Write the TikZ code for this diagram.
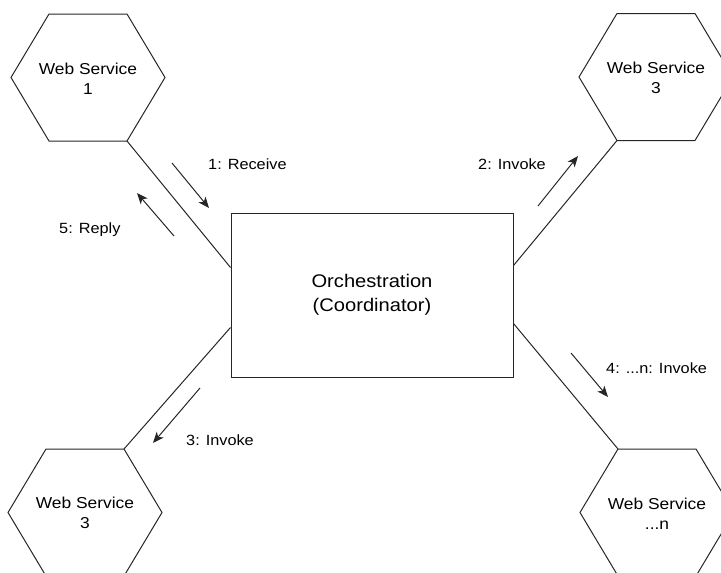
\documentclass[tikz,border=0pt]{standalone}
\usepackage{fontspec}
\setmainfont{Liberation Sans}[FakeStretch=1.1]
\usetikzlibrary{arrows.meta}

\begin{document}
\begin{tikzpicture}[x=1pt,y=-1pt,
  line/.style={draw=black!85, line width=1pt},
  flow/.style={line, -{Stealth[length=11pt,width=9pt,inset=3pt]}},
  svclabel/.style={align=center, font=\fontsize{15.8}{20}\selectfont, inner sep=0pt},
  msg/.style={font=\fontsize{14.8}{18}\selectfont, inner sep=0pt, anchor=base west},
  hub/.style={line, rectangle, minimum width=282pt, minimum height=164pt,
    align=center, font=\fontsize{18.3}{24}\selectfont},
  pics/hexagon/.style={code={
    \draw[line] (-77,0) coordinate (-w) -- (-39,-63.5) coordinate (-nw)
      -- (39,-63.5) coordinate (-ne) -- (77,0) coordinate (-e)
      -- (39,63.5) coordinate (-se) -- (-39,63.5) coordinate (-sw) -- cycle;
  }}
]
\useasboundingbox (0,0) rectangle (721,573);
\clip (0,0) rectangle (721,573);

% services
\pic (ws1) at (88,77.5) {hexagon};
\pic (ws3a) at (656,77) {hexagon};
\pic (ws3b) at (85,512.5) {hexagon};
\pic (wsn) at (657,512.5) {hexagon};

\node[svclabel] (t1) at (88,78.3) {Web Service\\1};
\node[svclabel] (t3a) at (656,78) {Web Service\\3};
\node[svclabel] (t3b) at (85,513.3) {Web Service\\3};
\node[svclabel] (tn) at (657,513.3) {Web Service\\...n};

% coordinator
\node[hub] (orch) at (372,295) {Orchestration\\(Coordinator)};

% links between the services and the coordinator
\draw[line] (ws1-se) -- ([yshift=-55pt]orch.north west);
\draw[line] (ws3a-sw) -- ([yshift=-53pt]orch.north east);
\draw[line] (ws3b-ne) -- ([yshift=50pt]orch.south west);
\draw[line] (wsn-nw) -- ([yshift=54pt]orch.south east);

% message arrows
\coordinate (r1a) at (172,163); \coordinate (r1b) at (209,208);
\coordinate (r5a) at (174,236); \coordinate (r5b) at (137,193);
\coordinate (r2a) at (538,206); \coordinate (r2b) at (578,156);
\coordinate (r3a) at (200,388); \coordinate (r3b) at (153,443);
\coordinate (r4a) at (571,353); \coordinate (r4b) at (608,397);
\draw[flow] (r1a) -- (r1b);
\draw[flow] (r5a) -- (r5b);
\draw[flow] (r2a) -- (r2b);
\draw[flow] (r3a) -- (r3b);
\draw[flow] (r4a) -- (r4b);

% message labels
\node[msg] (l1) at (208,169) {1: Receive};
\node[msg] (l5) at (59,233) {5: Reply};
\node[msg] (l2) at (478,169) {2: Invoke};
\node[msg] (l3) at (186,445) {3: Invoke};
\node[msg] (l4) at (606,373) {4: ...n: Invoke};
\end{tikzpicture}
\end{document}
